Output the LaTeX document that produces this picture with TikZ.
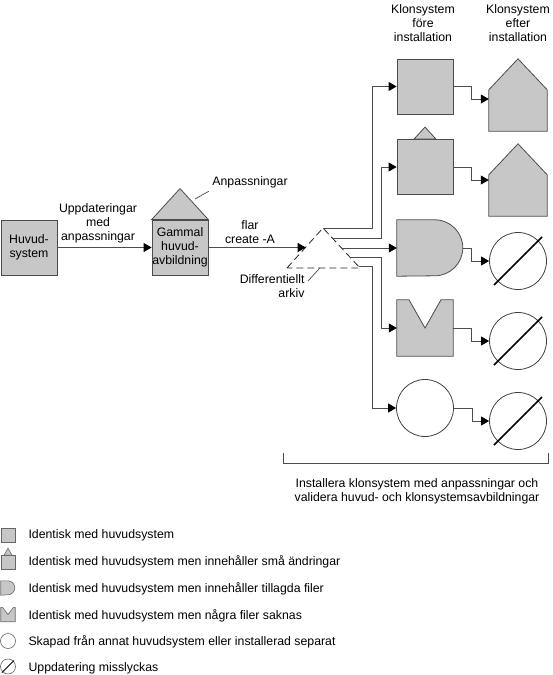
\documentclass[tikz,border=0pt]{standalone}
\usepackage{fontspec}
\setmainfont{Liberation Sans}
\usetikzlibrary{arrows.meta,positioning,calc}

\begin{document}
\begin{tikzpicture}[
    x=1pt, y=-1pt,
    every node/.style={font=\fontsize{12.3}{14}\selectfont},
    sysbox/.style={draw=black!70, fill=black!22, line width=0.8pt, minimum width=56pt, minimum height=55pt, inner sep=0pt, align=center},
    slot/.style={minimum width=56pt, minimum height=56pt, inner sep=0pt},
    shp/.style={draw=black!70, fill=black!22, line width=0.8pt},
    ring/.style={circle, draw=black!75, fill=white, line width=0.8pt, minimum size=57pt, inner sep=0pt},
    slash/.style={draw=black, line width=1.6pt},
    conn/.style={draw=black!70, line width=0.8pt, -{Triangle[length=8pt,width=9pt,color=black]}},
    lead/.style={draw=black!70, line width=0.7pt},
    icon/.style={draw=black!60, fill=black!22, line width=0.6pt, minimum width=14pt, minimum height=14pt, inner sep=0pt},
    lbl/.style={align=center},
    legtxt/.style={anchor=west}
]
    \useasboundingbox (0,0) rectangle (552,675);

    % --- Main system and old image (left) ---
    \node[sysbox] (huvud) at (29,247.5) {Huvud-\\system};
    \node[sysbox] (gammal) at (180,247.5) {Gammal\\huvud-\\avbildning};
    \filldraw[shp] (gammal.north west) -- ([yshift=31pt]gammal.north) -- (gammal.north east) -- cycle;
    \node (anp) at (250,182) {Anpassningar};
    \draw[lead] (195,199) -- (anp.south west);

    \draw[conn] (huvud) -- (gammal);
    \node[lbl] (upd) at (98,223) {Uppdateringar\\med\\anpassningar};

    % differential archive
    \coordinate (ark-l) at (287,268);
    \coordinate (ark-t) at (323,228);
    \coordinate (ark-r) at (360,268);
    \draw[black!85, line width=0.8pt, dash pattern=on 7pt off 4pt] (ark-l) -- (ark-t) -- (ark-r) -- cycle;
    \coordinate (ark-in) at ($(ark-l)!0.52!(ark-t)$);
    \draw[conn] (gammal.east) -- (gammal.east -| ark-in);
    \node[lbl] (flar) at (250,232.5) {flar\\create -A};
    \node[anchor=east, align=right] (diff) at (308,286) {Differentiellt\\arkiv};
    \draw[lead] ([yshift=5pt]diff.east) -- ($(ark-l)!0.45!(ark-r)$);

    % branch points on the archive
    \coordinate (br1) at (ark-t);
    \coordinate (br2) at ($(ark-t)!0.27!(ark-r)$);
    \coordinate (br3) at ($(ark-t)!0.5!(ark-r)$);
    \coordinate (br4) at ($(ark-t)!0.73!(ark-r)$);
    \coordinate (br5) at ($(ark-t)!0.96!(ark-r)$);

    % --- Clone systems before installation ---
    \node[lbl] (hdr1) at (423,23) {Klonsystem\\före\\installation};
    \node[sysbox] (k1) at (425,86.5) {};
    \node[sysbox] (k2) at (425,167) {};
    \filldraw[shp] ([xshift=-11pt]k2.north) -- ([yshift=12pt]k2.north) -- ([xshift=11pt]k2.north) -- cycle;
    \node[slot] (k3) at (425,248) {};
    \filldraw[shp] (k3.north west) -- ++(38,0) arc(-90:90:28) -- (k3.south west) -- cycle;
    \coordinate (k3-out) at ([xshift=10pt]k3.east);
    \node[slot] (k4) at (425,328) {};
    \filldraw[shp] (k4.north west) -- ([xshift=-16pt]k4.north) -- (k4.center) -- ([xshift=16pt]k4.north)
        -- (k4.north east) -- (k4.south east) -- (k4.south west) -- cycle;
    \node[ring] (k5) at (425,408) {};

    \draw[conn] (br1) -| ([xshift=-24pt]k1.west) -- (k1.west);
    \draw[conn] (br2) -| ([xshift=-15pt]k2.west) -- (k2.west);
    \draw[conn] (br3) -- (br3 -| k3.west);
    \draw[conn] (br4) -| ([xshift=-15pt]k4.west) -- (k4.west);
    \draw[conn] (br5) -| ([xshift=-24pt]k5.west) -- (k5.west);

    % --- Clone systems after installation ---
    \node[lbl] (hdr2) at (518,23) {Klonsystem\\efter\\installation};
    \node[slot, minimum width=58pt, minimum height=72pt] (e1) at (518,95) {};
    \filldraw[shp] (e1.south west) -- ([yshift=-31pt]e1.north west) -- (e1.north)
        -- ([yshift=-31pt]e1.north east) -- (e1.south east) -- cycle;
    \node[slot, minimum width=58pt, minimum height=72pt] (e2) at (518,180) {};
    \filldraw[shp] (e2.south west) -- ([yshift=-31pt]e2.north west) -- (e2.north)
        -- ([yshift=-31pt]e2.north east) -- (e2.south east) -- cycle;
    \node[ring] (e3) at (518,261) {};
    \node[ring] (e4) at (518,341) {};
    \node[ring] (e5) at (518,421) {};
    \foreach \e in {e3,e4,e5}
        \draw[slash] ([shift={(-24,24)}]\e.center) -- ([shift={(24,-24)}]\e.center);

    \draw[conn] (k1.east) -- ++(18,0) |- ([yshift=-4pt]e1.west);
    \draw[conn] (k2.east) -- ++(18,0) |- (e2.west);
    \draw[conn] (k3-out) -- ++(8,0) |- (e3.west);
    \draw[conn] (k4.east) -- ++(18,0) |- (e4.west);
    \draw[conn] (k5.east) -- ++(18,0) |- (e5.west);

    % bracket
    \coordinate (brk-l) at (283,463);
    \coordinate (brk-r) at (548,463);
    \draw[lead] ([yshift=10pt]brk-l) -- (brk-l) -- (brk-r) -- ([yshift=10pt]brk-r);
    \node[lbl] (inst) at (417,491.5) {Installera klonsystem med anpassningar och\\validera huvud- och klonsystemsavbildningar};
    \draw[lead] ($(brk-l)!0.5!(brk-r)$) -- ($(brk-l)!0.5!(brk-r)$ |- inst.north);

    % --- Legend ---
    \node[icon] (ic1) at (8,535) {};
    \node[icon] (ic2) at (8,562.5) {};
    \filldraw[icon] ([xshift=-4pt]ic2.north) -- ([yshift=7pt]ic2.north) -- ([xshift=4pt]ic2.north) -- cycle;
    \node[minimum size=14pt, inner sep=0pt] (ic3) at (8,588) {};
    \filldraw[icon] (ic3.north west) -- ++(7,0) arc(-90:90:7) -- (ic3.south west) -- cycle;
    \node[minimum size=14pt, inner sep=0pt] (ic4) at (8,614.5) {};
    \filldraw[icon] (ic4.north west) -- ([xshift=-5.5pt]ic4.north) -- (ic4.center) -- ([xshift=5.5pt]ic4.north)
        -- (ic4.north east) -- (ic4.south east) -- (ic4.south west) -- cycle;
    \node[icon, circle, fill=white, minimum size=15pt] (ic5) at (8,641) {};
    \node[icon, circle, fill=white, minimum size=15pt] (ic6) at (8,666.5) {};
    \draw[line width=0.8pt] ([shift={(-6,6)}]ic6.center) -- ([shift={(6,-6)}]ic6.center);

    \node[legtxt] (leg1) at (25,535) {Identisk med huvudsystem};
    \node[legtxt] (leg2) at (25,562) {Identisk med huvudsystem men innehåller små ändringar};
    \node[legtxt] (leg3) at (25,589) {Identisk med huvudsystem men innehåller tillagda filer};
    \node[legtxt] (leg4) at (25,615.5) {Identisk med huvudsystem men några filer saknas};
    \node[legtxt] (leg5) at (25,642) {Skapad från annat huvudsystem eller installerad separat};
    \node[legtxt] (leg6) at (25,668) {Uppdatering misslyckas};
\end{tikzpicture}
\end{document}
